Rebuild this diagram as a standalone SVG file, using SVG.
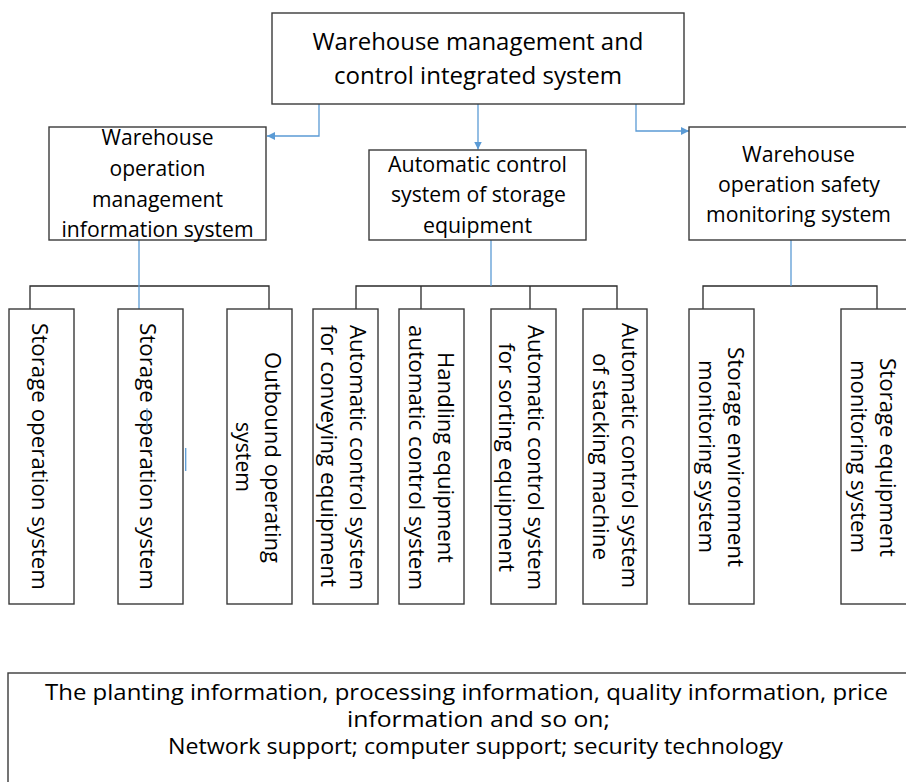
<svg xmlns="http://www.w3.org/2000/svg" width="906" height="782" viewBox="0 0 906 782">
<defs>
<style>
.box{fill:#fff;stroke:#3a3a3a;stroke-width:1.4}
.t{font-family:"Open Sans","Liberation Sans",sans-serif;font-size:21px;fill:#000;text-anchor:middle}
.big{font-size:24px}
.blue{fill:none;stroke:#5b9bd5;stroke-width:1.3}
.blk{fill:none;stroke:#2a2a2a;stroke-width:1.3}
</style>
<marker id="ah" viewBox="0 0 10 10" refX="10" refY="5" markerWidth="8" markerHeight="8" markerUnits="userSpaceOnUse" orient="auto">
<path d="M0,0 L10,5 L0,10 z" fill="#5b9bd5"/>
</marker>
</defs>
<rect width="906" height="782" fill="#fff"/>

<g id="connectors">
<path class="blue" d="M319,104 V136 H267" marker-end="url(#ah)"/>
<path class="blue" d="M478,104 V149.5" marker-end="url(#ah)"/>
<path class="blue" d="M636,104 V131 H689" marker-end="url(#ah)"/>
<path class="blk" d="M30,309 V286 H269 V309"/>
<path class="blk" d="M356,309 V286 H617 V309 M421,286 V309 M530,286 V309"/>
<path class="blk" d="M703,309 V286 H877 V309"/>
<path class="blue" d="M139,240 V309"/>
<path class="blue" d="M491,240 V286"/>
<path class="blue" d="M791,240 V286"/>
</g>

<g id="top">
<rect class="box" x="272" y="13" width="412" height="91"/>
<text class="t big" x="478" y="50" textLength="331" lengthAdjust="spacingAndGlyphs">Warehouse management and</text>
<text class="t big" x="478" y="84" textLength="288" lengthAdjust="spacingAndGlyphs">control integrated system</text>
</g>

<g id="wom">
<rect class="box" x="49" y="127" width="217" height="113"/>
<text class="t" x="157.5" y="145" textLength="112" lengthAdjust="spacingAndGlyphs">Warehouse</text>
<text class="t" x="157.5" y="176" textLength="96" lengthAdjust="spacingAndGlyphs">operation</text>
<text class="t" x="157.5" y="207" textLength="131" lengthAdjust="spacingAndGlyphs">management</text>
<text class="t" x="157.5" y="237" textLength="192" lengthAdjust="spacingAndGlyphs">information system</text>
</g>

<g id="acs">
<rect class="box" x="369" y="150" width="217" height="90"/>
<text class="t" x="477.5" y="172" textLength="179" lengthAdjust="spacingAndGlyphs">Automatic control</text>
<text class="t" x="478.5" y="202" textLength="175" lengthAdjust="spacingAndGlyphs">system of storage</text>
<text class="t" x="477.5" y="233" textLength="109" lengthAdjust="spacingAndGlyphs">equipment</text>
</g>

<g id="wos">
<rect class="box" x="689" y="127" width="222" height="113"/>
<text class="t" x="798.5" y="162" textLength="113" lengthAdjust="spacingAndGlyphs">Warehouse</text>
<text class="t" x="799" y="192" textLength="162" lengthAdjust="spacingAndGlyphs">operation safety</text>
<text class="t" x="798.5" y="222" textLength="185" lengthAdjust="spacingAndGlyphs">monitoring system</text>
</g>

<g id="c1">
<rect class="box" x="9" y="309" width="65" height="295"/>
<text class="t" transform="translate(32,456.5) rotate(90)" textLength="267" lengthAdjust="spacingAndGlyphs">Storage operation system</text>
</g>
<g id="c2">
<rect class="box" x="118" y="309" width="65" height="295"/>
<text class="t" transform="translate(140,456.5) rotate(90)" textLength="267" lengthAdjust="spacingAndGlyphs">Storage operation system</text>
</g>
<g id="c3">
<rect class="box" x="227" y="309" width="65" height="295"/>
<text class="t" transform="translate(265,457.5) rotate(90)" textLength="211" lengthAdjust="spacingAndGlyphs">Outbound operating</text>
<text class="t" transform="translate(236,457) rotate(90)" textLength="70" lengthAdjust="spacingAndGlyphs">system</text>
</g>
<g id="c4">
<rect class="box" x="313" y="309" width="65" height="295"/>
<text class="t" transform="translate(350,457.5) rotate(90)" textLength="265" lengthAdjust="spacingAndGlyphs">Automatic control system</text>
<text class="t" transform="translate(321,456) rotate(90)" textLength="262" lengthAdjust="spacingAndGlyphs">for conveying equipment</text>
</g>
<g id="c5">
<rect class="box" x="399" y="309" width="65" height="295"/>
<text class="t" transform="translate(438,457.5) rotate(90)" textLength="211" lengthAdjust="spacingAndGlyphs">Handling equipment</text>
<text class="t" transform="translate(409,457.5) rotate(90)" textLength="265" lengthAdjust="spacingAndGlyphs">automatic control system</text>
</g>
<g id="c6">
<rect class="box" x="491" y="309" width="65" height="295"/>
<text class="t" transform="translate(528,457.5) rotate(90)" textLength="265" lengthAdjust="spacingAndGlyphs">Automatic control system</text>
<text class="t" transform="translate(499,457.5) rotate(90)" textLength="229" lengthAdjust="spacingAndGlyphs">for sorting equipment</text>
</g>
<g id="c7">
<rect class="box" x="583" y="309" width="64" height="295"/>
<text class="t" transform="translate(622,455.5) rotate(90)" textLength="265" lengthAdjust="spacingAndGlyphs">Automatic control system</text>
<text class="t" transform="translate(593,456.5) rotate(90)" textLength="207" lengthAdjust="spacingAndGlyphs">of stacking machine</text>
</g>
<g id="c8">
<rect class="box" x="689" y="309" width="65" height="295"/>
<text class="t" transform="translate(728,457) rotate(90)" textLength="220" lengthAdjust="spacingAndGlyphs">Storage environment</text>
<text class="t" transform="translate(699,456.5) rotate(90)" textLength="193" lengthAdjust="spacingAndGlyphs">monitoring system</text>
</g>
<g id="c9">
<rect class="box" x="841" y="309" width="70" height="295"/>
<text class="t" transform="translate(880,457.5) rotate(90)" textLength="199" lengthAdjust="spacingAndGlyphs">Storage equipment</text>
<text class="t" transform="translate(851,456.5) rotate(90)" textLength="193" lengthAdjust="spacingAndGlyphs">monitoring system</text>
</g>

<g id="marks">
<path class="blue" d="M147,408 V430"/>
<path class="blue" d="M185.7,448 V471" stroke-width="1"/>
</g>

<g id="support">
<rect class="box" x="8" y="673" width="910" height="120"/>
<text class="t" x="466.5" y="700" textLength="843" lengthAdjust="spacingAndGlyphs">The planting information, processing information, quality information, price</text>
<text class="t" x="478.5" y="727" textLength="263" lengthAdjust="spacingAndGlyphs">information and so on;</text>
<text class="t" x="475.5" y="754" textLength="615" lengthAdjust="spacingAndGlyphs">Network support; computer support; security technology</text>
</g>
</svg>
